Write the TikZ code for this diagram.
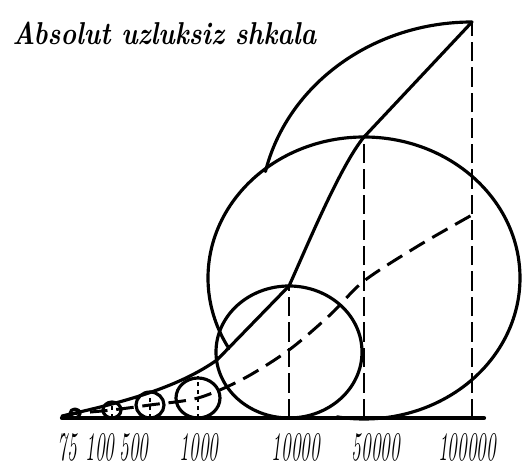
\documentclass[tikz,border=0pt]{standalone}
\usetikzlibrary{calc}
\newcommand{\pu}{0.02cm}
\tikzset{
  scaleline/.style={line width=1.8pt, line cap=round, line join=round},
  guide/.style={line width=1.7pt, dash pattern=on 11pt off 3.5pt},
  centreline/.style={line width=1.7pt, dash pattern=on 10pt off 5pt},
  fineguide/.style={line width=1.1pt, dash pattern=on 2.5pt off 2pt},
  numlabel/.style={font=\fontsize{11}{11}\selectfont\itshape, inner sep=0pt, yscale=2.1, transform shape},
  titletext/.style={font=\fontsize{15}{15}\selectfont\bfseries\itshape, inner sep=0pt, anchor=west, yscale=1.2, transform shape},
}

\begin{document}
\begin{tikzpicture}[x=\pu, y=\pu]
    \useasboundingbox (0,0) rectangle (525,466);
    \node[titletext] (title) at (12,433) {Absolut uzluksiz shkala};

    % centres, tops and feet of the circles
    \coordinate (c75) at (75,52.5);
    \coordinate (c100) at (112,56);
    \coordinate (c500) at (150,61);
    \coordinate (c1000) at (198,68);
    \coordinate (c10000) at (289,114);
    \coordinate (c50000) at (364,190);
    \coordinate (c100000) at (472,251);
    \coordinate (t10000) at (289,180);
    \coordinate (t50000) at (364,329);
    \coordinate (t100000) at (472,444);
    \coordinate (f10000) at (289,48);
    \coordinate (f50000) at (364,48);
    \coordinate (f100000) at (472,48);

    \draw[scaleline, line width=2.4pt] (62,48) -- (484,48);

    \draw[scaleline] (c75) ellipse[x radius=5*\pu, y radius=4.5*\pu];
    \draw[scaleline] (c100) ellipse[x radius=9*\pu, y radius=8*\pu];
    \draw[scaleline] (c500) ellipse[x radius=14*\pu, y radius=13*\pu];
    \draw[scaleline] (c1000) ellipse[x radius=22*\pu, y radius=20*\pu];
    \draw[scaleline] (c10000) ellipse[x radius=73*\pu, y radius=66*\pu];
    \draw[scaleline] (t50000) arc[start angle=90, end angle=210, x radius=156*\pu, y radius=141*\pu];
    \draw[scaleline] (t50000) arc[start angle=90, end angle=-100, x radius=156*\pu, y radius=141*\pu];
    \draw[scaleline] (t100000) arc[start angle=90, end angle=167, x radius=212*\pu, y radius=193*\pu];

    % curve through the tops
    \draw[scaleline] (62,50) .. controls (130,65) and (180,80) .. (217,106) -- (t10000)
        .. controls (305,215) and (340,300) .. (t50000) -- (t100000);
    % curve through the centres
    \draw[centreline] plot[smooth, tension=0.5] coordinates {(64,50) (c75) (c100) (c500) (c1000) (243,87) (289,116) (330,151) (364,185) (418,220) (c100000)};

    \draw[guide] (f10000) -- (t10000);
    \draw[guide] (f50000) -- (t50000);
    \draw[guide] (f100000) -- (t100000);
    \draw[fineguide] (198,48) -- (198,90);
    \draw[fineguide] (150,48) -- (150,74);
    \draw[fineguide] (112,48) -- (112,64);

    \node[numlabel] (l75) at (67,19) {75};
    \node[numlabel] (l100) at (100,19) {100};
    \node[numlabel] (l500) at (134,19) {500};
    \node[numlabel] (l1000) at (199,19) {1000};
    \node[numlabel] (l10000) at (296,19) {10000};
    \node[numlabel] (l50000) at (376,19) {50000};
    \node[numlabel] (l100000) at (467,19) {100000};
\end{tikzpicture}
\end{document}
